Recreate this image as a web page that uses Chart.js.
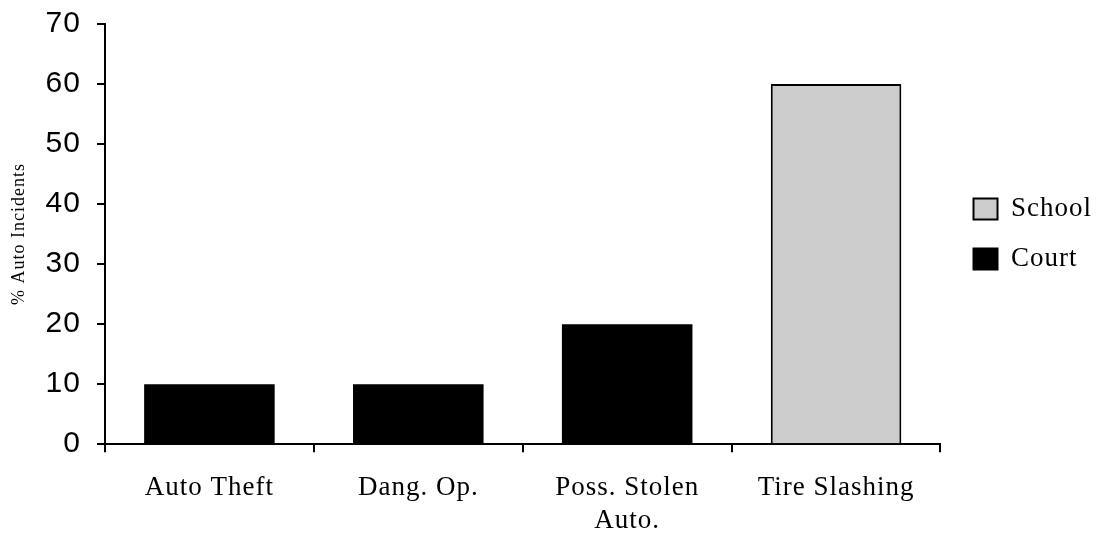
<!DOCTYPE html>
<html>
<head>
<meta charset="utf-8">
<script src="https://cdn.jsdelivr.net/npm/chart.js@4"></script>
<style>
  html, body { margin: 0; padding: 0; background: #fff; }
  #wrap { width: 1096px; height: 537px; }
</style>
</head>
<body>
<div id="wrap"><canvas id="chart" width="1096" height="537"></canvas></div>
<script>
'use strict';

// data
const categories = ['Auto Theft', 'Dang. Op.', ['Poss. Stolen', 'Auto.'], 'Tire Slashing'];
const schoolValues = [null, null, null, 60];
const courtValues = [10, 10, 20, null];
const yTicks = [0, 10, 20, 30, 40, 50, 60, 70];

const serif = '"Liberation Serif", "Times New Roman", serif';
const sans = '"Liberation Sans", Arial, sans-serif';

// the original text is a bit spread out
const spacingPlugin = {
  id: 'spacing',
  beforeUpdate(chart) { chart.ctx.letterSpacing = '1px'; },
  beforeDraw(chart) { chart.ctx.letterSpacing = '1px'; }
};

const data = {
  labels: categories,
  datasets: [
    {
      label: 'School',
      data: schoolValues,
      backgroundColor: '#cccccc',
      borderColor: '#000000',
      borderWidth: 2,
      borderSkipped: 'bottom'
    },
    {
      label: 'Court',
      data: courtValues,
      backgroundColor: '#000000',
      borderColor: '#000000',
      borderWidth: 0
    }
  ]
};

const config = {
  type: 'bar',
  data: data,
  plugins: [spacingPlugin],
  options: {
    responsive: false,
    animation: false,
    barPercentage: 0.625,
    categoryPercentage: 1,
    layout: { padding: { top: 24, right: -6, bottom: -20, left: 0 } },
    plugins: {
      legend: {
        position: 'right',
        align: 'center',
        fullSize: false,
        labels: {
          color: '#000',
          font: { family: serif, size: 27 },
          boxWidth: 24,
          boxHeight: 21,
          padding: 23,
          generateLabels: function (chart) {
            return chart.data.datasets.map(function (ds, i) {
              return {
                text: ds.label,
                fillStyle: ds.backgroundColor,
                strokeStyle: '#000',
                lineWidth: 2,
                datasetIndex: i
              };
            });
          }
        }
      },
      tooltip: { enabled: false }
    },
    scales: {
      x: {
        stacked: true,
        grid: { drawOnChartArea: false, color: '#000', lineWidth: 2, tickLength: 8, offset: true },
        border: { color: '#000', width: 2 },
        ticks: { color: '#000', font: { family: serif, size: 27 }, padding: 20, maxRotation: 0 }
      },
      y: {
        stacked: true,
        min: 0,
        max: 70,
        afterBuildTicks: function (axis) {
          axis.ticks = yTicks.map(function (v) { return { value: v }; });
        },
        afterFit: function (axis) { axis.paddingTop = 0; },
        grid: { drawOnChartArea: false, color: '#000', lineWidth: 2, tickLength: 8 },
        border: { color: '#000', width: 2 },
        ticks: { color: '#000', font: { family: sans, size: 30 }, padding: 16 },
        title: {
          display: true,
          text: '% Auto Incidents',
          color: '#000',
          font: { family: serif, size: 18 },
          padding: { top: 8, bottom: 0 }
        }
      },
      // empty axis only to leave a gap between the bars and the legend
      gap: {
        type: 'linear',
        position: 'right',
        display: true,
        grid: { display: false },
        border: { display: false },
        ticks: { display: false },
        afterFit: function (axis) { axis.width = 10; }
      }
    }
  }
};

const chartElem = document.getElementById('chart');
const autoChart = new Chart(chartElem, config);
</script>
</body>
</html>
